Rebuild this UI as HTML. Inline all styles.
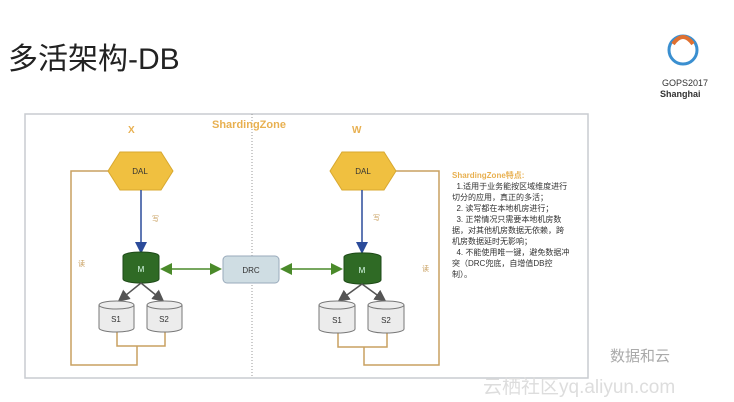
<!DOCTYPE html>
<html><head><meta charset="utf-8"><style>
body{margin:0;width:734px;height:402px;background:#fff;overflow:hidden;font-family:"Liberation Sans","Noto Sans CJK SC",sans-serif;position:relative}
.t{position:absolute;white-space:nowrap}
</style></head><body>
<div class="t" style="left:8px;top:34px;font-size:30px;color:#222">多活架构-DB</div>
<svg width="734" height="402" style="position:absolute;left:0;top:0">
<defs>
<marker id="g" markerWidth="8" markerHeight="8" refX="6" refY="4" orient="auto-start-reverse"><path d="M0,0 L8,4 L0,8z" fill="#4a8a2a"/></marker>
<marker id="b" markerWidth="8" markerHeight="8" refX="6" refY="4" orient="auto"><path d="M0,0 L8,4 L0,8z" fill="#2b4b9a"/></marker>
<marker id="k" markerWidth="8" markerHeight="8" refX="6" refY="4" orient="auto"><path d="M0,0 L8,4 L0,8z" fill="#555"/></marker>
</defs>
<!-- logo -->
<circle cx="683" cy="50" r="14" fill="none" stroke="#3a8fd0" stroke-width="3"/>
<path d="M673,44 Q683,30 693,44" fill="none" stroke="#e07030" stroke-width="4"/>
<text x="662" y="86" font-size="9" fill="#333" font-family="Liberation Sans">GOPS2017</text>
<text x="660" y="97" font-size="9" fill="#333" font-weight="bold" font-family="Liberation Sans">Shanghai</text>
<rect x="25" y="114" width="563" height="264" fill="none" stroke="#c8ccd0" stroke-width="1.5"/>
<line x1="252" y1="114" x2="252" y2="378" stroke="#999" stroke-dasharray="1,2"/>
<text x="212" y="128" font-size="11" font-weight="bold" fill="#e8b050">ShardingZone</text>
<text x="128" y="133" font-size="10" font-weight="bold" fill="#e8b050">X</text>
<text x="352" y="133" font-size="10" font-weight="bold" fill="#e8b050">W</text>
<!-- orange loops -->
<g fill="none" stroke="#c9a060" stroke-width="1.5">
<polyline points="108,171 71,171 71,365 137,365 137,346"/>
<polyline points="117,332 117,346 165,346 165,332"/>
<polyline points="396,171 439,171 439,365 364,365 364,347"/>
<polyline points="338,332 338,347 387,347 387,332"/>
</g>
<!-- hexagons -->
<polygon points="108,171 120,152 161,152 173,171 161,190 120,190" fill="#f0c040" stroke="#d8a830"/>
<polygon points="330,171 342,152 384,152 396,171 384,190 342,190" fill="#f0c040" stroke="#d8a830"/>
<text x="140" y="174" font-size="8" text-anchor="middle" fill="#333">DAL</text>
<text x="363" y="174" font-size="8" text-anchor="middle" fill="#333">DAL</text>
<line x1="141" y1="190" x2="141" y2="251" stroke="#2b4b9a" stroke-width="1.5" marker-end="url(#b)"/>
<line x1="362" y1="190" x2="362" y2="251" stroke="#2b4b9a" stroke-width="1.5" marker-end="url(#b)"/>
<text x="152" y="221" font-size="7" fill="#c9a060">写</text>
<text x="373" y="220" font-size="7" fill="#c9a060">写</text>
<text x="78" y="266" font-size="7" fill="#c9a060">读</text>
<text x="422" y="271" font-size="7" fill="#c9a060">读</text>
<!-- M -->
<g fill="#2f6a25" stroke="#1e4a18">
<path d="M123,256 v23 a18,4 0 0 0 36,0 v-23 a18,4 0 0 0 -36,0z"/>
<path d="M344,257 v23 a18,4 0 0 0 37,0 v-23 a18,4 0 0 0 -37,0z"/>
</g>
<text x="141" y="272" font-size="8" text-anchor="middle" fill="#dfe">M</text>
<text x="362" y="273" font-size="8" text-anchor="middle" fill="#dfe">M</text>
<rect x="223" y="256" width="56" height="27" rx="4" fill="#cfdde3" stroke="#9ab"/>
<text x="251" y="273" font-size="8" text-anchor="middle" fill="#333">DRC</text>
<g stroke="#4a8a2a" stroke-width="1.5">
<line x1="163" y1="269" x2="219" y2="269" marker-start="url(#g)" marker-end="url(#g)"/>
<line x1="283" y1="269" x2="340" y2="269" marker-start="url(#g)" marker-end="url(#g)"/>
</g>
<g stroke="#555" stroke-width="1.5">
<line x1="141" y1="283" x2="120" y2="300" marker-end="url(#k)"/>
<line x1="141" y1="283" x2="162" y2="300" marker-end="url(#k)"/>
<line x1="362" y1="284" x2="340" y2="300" marker-end="url(#k)"/>
<line x1="362" y1="284" x2="384" y2="300" marker-end="url(#k)"/>
</g>
<g fill="#ececec" stroke="#777">
<path d="M99,305 v23 a17.5,4 0 0 0 35,0 v-23 a17.5,4 0 0 0 -35,0z"/>
<path d="M147,305 v23 a17.5,4 0 0 0 35,0 v-23 a17.5,4 0 0 0 -35,0z"/>
<path d="M319,305 v24 a18,4 0 0 0 36,0 v-24 a18,4 0 0 0 -36,0z"/>
<path d="M368,305 v24 a18,4 0 0 0 36,0 v-24 a18,4 0 0 0 -36,0z"/>
</g>
<g fill="none" stroke="#777"><path d="M99,305 a17.5,4 0 0 0 35,0"/><path d="M147,305 a17.5,4 0 0 0 35,0"/><path d="M319,305 a18,4 0 0 0 36,0"/><path d="M368,305 a18,4 0 0 0 36,0"/></g>
<g font-size="8" text-anchor="middle" fill="#333"><text x="116" y="322">S1</text><text x="164" y="322">S2</text><text x="337" y="323">S1</text><text x="386" y="323">S2</text></g>
</svg>
<div class="t" style="left:452px;top:170px;font-size:8px;line-height:11px;color:#333">
<span style="color:#e8b050;font-weight:bold">ShardingZone特点:</span><br>
&nbsp;&nbsp;1.适用于业务能按区域维度进行<br>切分的应用，真正的多活；<br>
&nbsp;&nbsp;2. 读写都在本地机房进行；<br>
&nbsp;&nbsp;3. 正常情况只需要本地机房数<br>据，对其他机房数据无依赖，跨<br>机房数据延时无影响；<br>
&nbsp;&nbsp;4. 不能使用唯一键，避免数据冲<br>突（DRC兜底，自增值DB控<br>制）。</div>
<div class="t" style="left:610px;top:345px;font-size:15px;color:#aaa">数据和云</div>
<div class="t" style="left:483px;top:372px;font-size:19px;color:#ddd">云栖社区yq.aliyun.com</div>
</body></html>
